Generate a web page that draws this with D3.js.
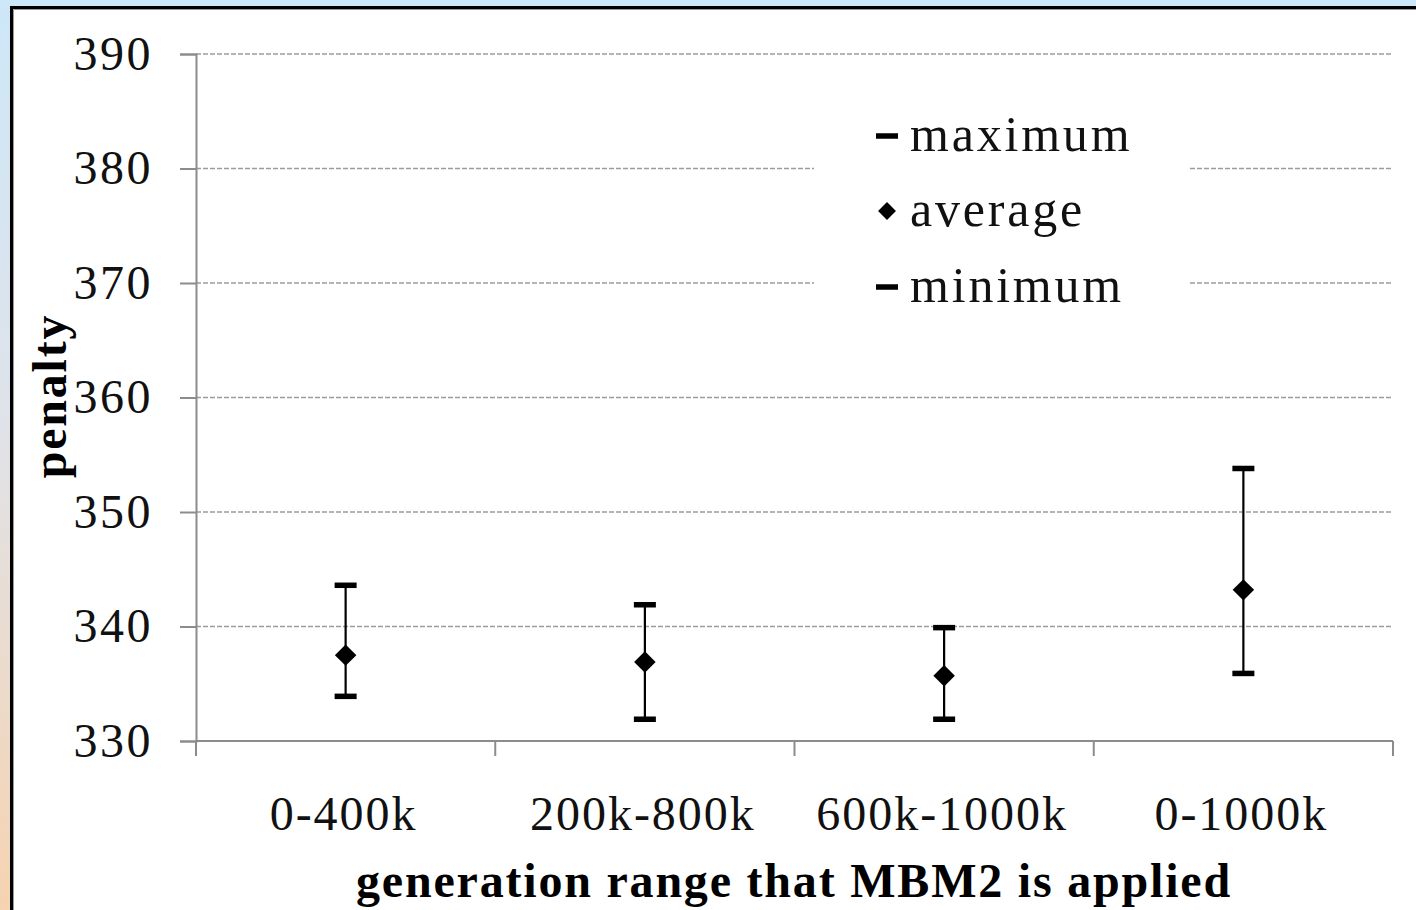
<!DOCTYPE html>
<html>
<head>
<meta charset="utf-8">
<script src="https://cdn.jsdelivr.net/npm/d3@7"></script>
<style>
  html, body { margin: 0; padding: 0; background: #fff; }
  svg { display: block; }
</style>
</head>
<body>
<svg id="chart" width="1416" height="910"></svg>
<script>
// Penalty range per generation window where MBM2 is applied
const categories = ["0-400k", "200k-800k", "600k-1000k", "0-1000k"];
const maxValues = [343.6, 341.9, 339.9, 353.8];
const avgValues = [337.5, 336.9, 335.7, 343.2];
const minValues = [333.9, 331.9, 331.9, 335.9];
const yTicks = [330, 340, 350, 360, 370, 380, 390];
const legendLabels = ["maximum", "average", "minimum"];

const W = 1416, H = 910;
const svg = d3.select("#chart");
const serif = "'Liberation Serif', 'DejaVu Serif', serif";

// Slide-style backdrop: light blue strip on top, blue-to-peach strip on the left
const defs = svg.append("defs");
const grad = defs.append("linearGradient")
  .attr("id", "sideGrad").attr("x1", 0).attr("y1", 0).attr("x2", 0).attr("y2", 1);
grad.append("stop").attr("offset", "0%").attr("stop-color", "#cde7f8");
grad.append("stop").attr("offset", "45%").attr("stop-color", "#dfe3ea");
grad.append("stop").attr("offset", "100%").attr("stop-color", "#f6d3b1");
svg.append("rect").attr("x", 0).attr("y", 0).attr("width", W).attr("height", H)
  .attr("fill", "url(#sideGrad)");
svg.append("rect").attr("x", 0).attr("y", 0).attr("width", W).attr("height", 8)
  .attr("fill", "#cfe8f9");

// White chart panel with a heavy dark frame
svg.append("rect").attr("x", 11.5).attr("y", 7.5).attr("width", W + 20).attr("height", H + 20)
  .attr("fill", "#fff").attr("stroke", "#000").attr("stroke-width", 3);
svg.append("path").attr("d", `M13.5,${H} V9.5 H${W}`)
  .attr("fill", "none").attr("stroke", "#9a9a9a").attr("stroke-width", 1);

// Scales
const x = d3.scaleBand().domain(categories).range([196, 1393]).padding(0);
const y = d3.scaleLinear().domain([330, 390]).range([741, 54]);
const cx = c => x(c) + x.bandwidth() / 2;

// Dashed horizontal gridlines
svg.append("g").selectAll("line").data(yTicks.filter(t => t !== 330)).join("line")
  .attr("x1", 196).attr("x2", 1393)
  .attr("y1", d => y(d)).attr("y2", d => y(d))
  .attr("stroke", "#9c9c9c").attr("stroke-width", 1.5)
  .attr("stroke-dasharray", "5,2");

// Y axis
const yAxis = svg.append("g").attr("transform", "translate(196,0)")
  .call(d3.axisLeft(y).tickValues(yTicks).tickSize(16).tickPadding(27).tickFormat(d3.format("d")));
yAxis.select(".domain").attr("stroke", "#8c8c8c").attr("stroke-width", 2);
yAxis.selectAll(".tick line").attr("stroke", "#8c8c8c").attr("stroke-width", 2);
yAxis.selectAll(".tick text")
  .attr("font-family", serif).attr("font-size", 48).attr("letter-spacing", 2.5)
  .attr("fill", "#111");

// X axis with tick marks on the category boundaries
const xAxisG = svg.append("g").attr("transform", "translate(0,741)");
xAxisG.append("line").attr("x1", 196).attr("x2", 1393).attr("y1", 0).attr("y2", 0)
  .attr("stroke", "#8c8c8c").attr("stroke-width", 2);
const bounds = categories.map(c => x(c)).concat([x.range()[1]]);
xAxisG.selectAll("line.tk").data(bounds).join("line").attr("class", "tk")
  .attr("x1", d => d).attr("x2", d => d).attr("y1", 0).attr("y2", 15)
  .attr("stroke", "#8c8c8c").attr("stroke-width", 2);
xAxisG.selectAll("text").data(categories).join("text")
  .attr("x", d => cx(d) - 2).attr("y", 89)
  .attr("text-anchor", "middle")
  .attr("font-family", serif).attr("font-size", 48).attr("letter-spacing", 2)
  .attr("fill", "#111")
  .text(d => d);

// Axis titles
svg.append("text")
  .attr("x", 794).attr("y", 897).attr("text-anchor", "middle")
  .attr("font-family", serif).attr("font-weight", "bold").attr("font-size", 48)
  .attr("letter-spacing", 1.8)
  .text("generation range that MBM2 is applied");
svg.append("text")
  .attr("transform", "translate(66,396) rotate(-90)").attr("text-anchor", "middle")
  .attr("font-family", serif).attr("font-weight", "bold").attr("font-size", 48)
  .attr("letter-spacing", 1.8)
  .text("penalty");

// Error bars: whisker from minimum to maximum with flat caps
const marks = svg.append("g");
categories.forEach((c, i) => {
  const px = cx(c);
  marks.append("line")
    .attr("x1", px).attr("x2", px)
    .attr("y1", y(maxValues[i])).attr("y2", y(minValues[i]))
    .attr("stroke", "#000").attr("stroke-width", 2.2);
  [maxValues[i], minValues[i]].forEach(v => {
    marks.append("rect")
      .attr("x", px - 11).attr("y", y(v) - 2.75)
      .attr("width", 22).attr("height", 5.5).attr("fill", "#000");
  });
  marks.append("path")
    .attr("d", d3.symbol(d3.symbolSquare, 230)())
    .attr("transform", `translate(${px},${y(avgValues[i])}) rotate(45)`)
    .attr("fill", "#000");
});

// Legend on a white panel over the gridlines
const lg = svg.append("g");
lg.append("rect").attr("x", 814).attr("y", 100).attr("width", 376).attr("height", 220)
  .attr("fill", "#fff");
const legendY = [136, 211, 287];
legendLabels.forEach((lab, i) => {
  if (i === 1) {
    lg.append("path")
      .attr("d", d3.symbol(d3.symbolSquare, 160)())
      .attr("transform", `translate(887,${legendY[i]}) rotate(45)`)
      .attr("fill", "#000");
  } else {
    lg.append("rect").attr("x", 876).attr("y", legendY[i] - 2.75)
      .attr("width", 22).attr("height", 5.5).attr("fill", "#000");
  }
  lg.append("text")
    .attr("x", 910).attr("y", legendY[i] + 15)
    .attr("font-family", serif).attr("font-size", 50).attr("letter-spacing", 2.8)
    .attr("fill", "#111")
    .text(lab);
});
</script>
</body>
</html>
